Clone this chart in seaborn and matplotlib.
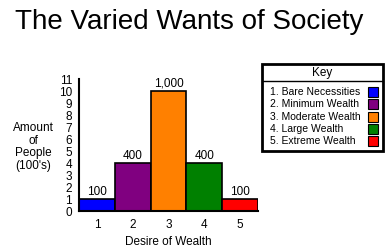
import matplotlib
matplotlib.use("Agg")
import matplotlib.pyplot as plt
import seaborn as sns
import pandas as pd
from matplotlib.patches import Rectangle
from matplotlib.lines import Line2D

categories = ["1", "2", "3", "4", "5"]
values = [1, 4, 10, 4, 1]
value_labels = ["100", "400", "1,000", "400", "100"]
key_labels = ["1. Bare Necessities", "2. Minimum Wealth", "3. Moderate Wealth",
              "4. Large Wealth", "5. Extreme Wealth"]
colors = ["#0000FF", "#800080", "#FF8000", "#008000", "#FF0000"]
yticks = list(range(0, 12))

sns.set_style("white")
plt.rcParams['font.family'] = ['Liberation Sans', 'DejaVu Sans']
plt.rcParams['text.color'] = 'black'
plt.rcParams['axes.labelcolor'] = 'black'
plt.rcParams['xtick.color'] = 'black'
plt.rcParams['ytick.color'] = 'black'

fig = plt.figure(figsize=(3.89, 2.49), dpi=100)
ax = fig.add_axes([79/389, 38/249, 179/389, 132/249])

df = pd.DataFrame({"cat": categories, "val": values})
sns.barplot(data=df, x="cat", y="val", hue="cat", palette=colors, width=1.0,
            edgecolor="black", linewidth=1.2, legend=False, ax=ax, saturation=1)

for cont, lab in zip(ax.containers, value_labels):
    ax.bar_label(cont, labels=[lab], padding=1, fontsize=8.5, color="black")

ax.set_xlim(-0.5, 4.5)
ax.set_ylim(0, 11)
ax.set_yticks(yticks)
ax.set_yticklabels([str(t) for t in yticks], fontsize=8.5)
ax.set_xticks(range(5))
ax.set_xticklabels(categories, fontsize=8.5)
ax.set_xticks([i - 0.5 for i in range(6)], minor=True)
ax.tick_params(axis='x', which='major', length=0, pad=6)
ax.tick_params(axis='x', which='minor', length=4, width=1.5, direction='out', color='black')
ax.tick_params(axis='y', which='major', length=4, width=1.5, direction='out', color='black', pad=1)
for s in ["top", "right"]:
    ax.spines[s].set_visible(False)
for s in ["left", "bottom"]:
    ax.spines[s].set_color("black")
    ax.spines[s].set_linewidth(1.5)

ax.set_xlabel("Desire of Wealth", fontsize=8.5, labelpad=3)
ax.set_ylabel("")
fig.text(33/389, 1 - 147/249, "Amount\nof\nPeople\n(100's)", ha="center", va="center",
         fontsize=8.5, linespacing=1.1)

fig.text(15/389, 1 - 22/249, "The Varied Wants of Society", ha="left", va="center",
         fontsize=20)

# Key box
W, H = 389, 249
def fx(x): return x / W
def fy(y): return 1 - y / H
box = Rectangle((fx(262), fy(151)), fx(383) - fx(262), fy(64) - fy(151),
                transform=fig.transFigure, facecolor="white", edgecolor="black",
                linewidth=2, zorder=5)
fig.patches.append(box)
fig.lines.append(Line2D([fx(262), fx(383)], [fy(81), fy(81)], transform=fig.transFigure,
                        color="black", linewidth=1, zorder=6))
fig.text(fx(322.5), fy(72.5), "Key", ha="center", va="center", fontsize=8.5, zorder=7)
ys = [92, 104, 117, 129, 141]
for y, lab, c in zip(ys, key_labels, colors):
    fig.text(fx(270), fy(y), lab, ha="left", va="center", fontsize=7.5, zorder=7)
    sq = Rectangle((fx(368), fy(y + 5)), fx(10), 10 / H, transform=fig.transFigure,
                   facecolor=c, edgecolor="black", linewidth=0.8, zorder=7)
    fig.patches.append(sq)

fig.savefig("out.png", dpi=100)
